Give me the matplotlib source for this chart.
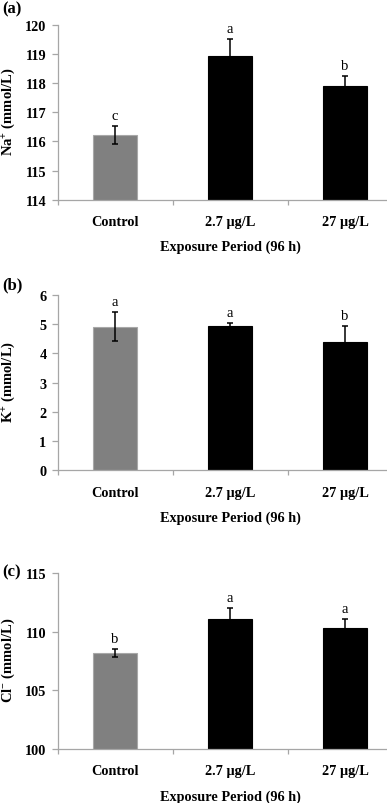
import matplotlib
matplotlib.use("Agg")
import matplotlib.pyplot as plt
from matplotlib.ticker import FixedLocator

plt.rcParams['font.family'] = ['Liberation Serif', 'DejaVu Serif']
plt.rcParams['mathtext.default'] = 'regular'

categories = ['Control', '2.7 \u00b5g/L', '27 \u00b5g/L']
na_values = [116.23, 118.92, 117.91]
na_err = [0.31, 0.60, 0.35]
na_letters = ['c', 'a', 'b']
k_values = [4.92, 4.93, 4.38]
k_err = [0.50, 0.10, 0.56]
k_letters = ['a', 'a', 'b']
cl_values = [108.22, 111.10, 110.36]
cl_err = [0.33, 0.95, 0.70]
cl_letters = ['b', 'a', 'a']

panels = [
    dict(tag='(a)', vals=na_values, err=na_err, letters=na_letters, ylim=(114, 120),
         yticks=[114, 115, 116, 117, 118, 119, 120], ylabel=r'Na$^{+}$ (mmol/L)',
         top=26, bottom=200.7, tagy=9),
    dict(tag='(b)', vals=k_values, err=k_err, letters=k_letters, ylim=(0, 6),
         yticks=[0, 1, 2, 3, 4, 5, 6], ylabel=r'K$^{+}$ (mmol/L)',
         top=296, bottom=471.3, tagy=285),
    dict(tag='(c)', vals=cl_values, err=cl_err, letters=cl_letters, ylim=(100, 115),
         yticks=[100, 105, 110, 115], ylabel=r'Cl$^{-}$ (mmol/L)',
         top=574.3, bottom=750, tagy=572.5),
]

W, H = 387, 804
fig = plt.figure(figsize=(W / 100, H / 100), dpi=100)
left_px, cat_w = 57.5, 115
colors = ['#808080', '#000000', '#000000']
edges = ['#a8a8a8', '#000000', '#000000']
spine_col = '#a6a6a6'

for p in panels:
    ax = fig.add_axes([left_px / W, 1 - p['bottom'] / H, 3 * cat_w / W, (p['bottom'] - p['top']) / H])
    x = [0, 1, 2]
    ax.bar(x, p['vals'], width=0.39, color=colors, edgecolor=edges, linewidth=0.8, zorder=2)
    ax.errorbar(x, p['vals'], yerr=p['err'], fmt='none', ecolor='black', elinewidth=1.1,
                capsize=2.4, capthick=1.1, zorder=3)
    for xi, v, e, l in zip(x, p['vals'], p['err'], p['letters']):
        ax.annotate(l, xy=(xi, v + e), xytext=(0, 7.6), textcoords='offset points',
                    ha='center', va='center', fontsize=10.5, annotation_clip=False)
    ax.set_xlim(-0.5, 2.5)
    ax.set_ylim(*p['ylim'])
    ax.set_yticks(p['yticks'])
    ax.set_xticks(x)
    ax.set_xticklabels(categories)
    ax.xaxis.set_minor_locator(FixedLocator([-0.5, 0.5, 1.5, 2.5]))
    for s in ['top', 'right']:
        ax.spines[s].set_visible(False)
    for s in ['left', 'bottom']:
        ax.spines[s].set_color(spine_col)
        ax.spines[s].set_linewidth(0.9)
    ax.tick_params(axis='x', which='major', length=0, pad=11, labelsize=10.3)
    ax.tick_params(axis='x', which='minor', length=3.5, color=spine_col, width=0.9)
    ax.tick_params(axis='y', length=4, color=spine_col, width=0.9, pad=4, labelsize=10.3)
    for lab in ax.get_xticklabels() + ax.get_yticklabels():
        lab.set_fontweight('bold')
    ax.annotate('Exposure Period (96 h)', xy=(0.5, 0), xycoords='axes fraction',
                xytext=(0, -47 * 0.72), textcoords='offset points', ha='center', va='center',
                fontsize=10.3, fontweight='bold')
    fig.text(8.5 / W, 1 - ((p['top'] + p['bottom']) / 2 - 2) / H, p['ylabel'], rotation=90,
             ha='center', va='center', fontsize=10.5, fontweight='bold')
    fig.text(12 / W, 1 - p['tagy'] / H, p['tag'], ha='center', va='center',
             fontsize=12, fontweight='bold')

fig.savefig('out.png', dpi=100)
